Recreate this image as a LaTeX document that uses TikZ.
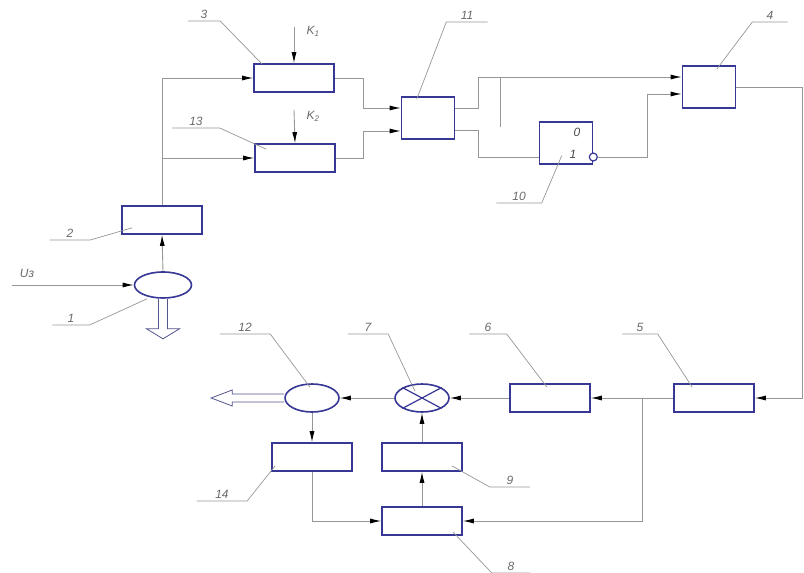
\documentclass[tikz,border=0pt]{standalone}
\usepackage{fontspec}
\setmainfont{Liberation Sans}
\usetikzlibrary{shapes.geometric,arrows.meta,calc}
\definecolor{blockblue}{RGB}{55,55,150}
\definecolor{wiregray}{RGB}{150,150,150}
\definecolor{textgray}{RGB}{105,105,105}
\tikzset{
  blk/.style={draw=blockblue,line width=1.6pt,fill=white,minimum width=80pt,minimum height=28pt,inner sep=0pt},
  sq/.style={blk,minimum width=53pt,minimum height=42pt},
  ell/.style={draw=blockblue,line width=1.6pt,ellipse,fill=white,minimum width=54pt,minimum height=28pt,inner sep=0pt},
  inv/.style={draw=blockblue,line width=1.2pt,circle,fill=white,minimum size=8pt,inner sep=0pt},
  wire/.style={draw=wiregray,line width=0.9pt},
  arr/.style={-{Latex[length=11pt,width=5pt,color=black]}},
  lead/.style={draw=wiregray,line width=0.7pt},
  lbl/.style={anchor=south,inner xsep=0pt,inner ysep=2pt,text=textgray,font=\itshape\fontsize{12}{12}\selectfont},
  hollow/.style={draw=blockblue!60!gray,line width=0.8pt,fill=white},
}
\begin{document}
\begin{tikzpicture}[x=1pt,y=-1pt]
\useasboundingbox (0,0) rectangle (804,573);

% blocks
\node[blk] (b3) at (294,78) {};
\node[blk] (b13) at (295,158) {};
\node[blk] (b2) at (162,220) {};
\node[ell,minimum width=57pt,minimum height=26pt] (e1) at (163,285) {};
\node[sq] (b11) at (428,118) {};
\node[sq] (b10) at (566,143) {};
\node[sq] (b4) at (709,87) {};
\node[blk] (b5) at (714,398) {};
\node[blk] (b6) at (550,398) {};
\node[ell] (e7) at (422,398) {};
\node[ell] (e12) at (312,398) {};
\node[blk] (b14) at (312,457) {};
\node[blk] (b9) at (422,457) {};
\node[blk] (b8) at (422,521) {};

\draw[blockblue,line width=1.2pt] (e7.north west) -- (e7.south east) (e7.north east) -- (e7.south west);
\node[inv] (n10) at ([yshift=-14pt]b10.east) {};
\node[lbl,anchor=center,text=black!70] (t0) at (577,132) {0};
\node[lbl,anchor=center,text=black!70] (t1) at (573,154) {1};

% inputs
\coordinate (uin) at (12,285);
\node[lbl] (uz) at (27,280) {Uз};
\draw[wire,arr] (uin) -- (e1.west);
\draw[wire,arr] (e1.north) -- (b2.south);
\coordinate (k1) at (294,27);
\coordinate (k2) at (294,110);
\node[lbl,anchor=center] (lk1) at (313,31) {K\textsubscript{1}};
\node[lbl,anchor=center] (lk2) at (313,116) {K\textsubscript{2}};
\draw[wire,arr] (k1) -- (b3.north);
\draw[wire,arr] (k2) -- (b13.north);

% upper part
\draw[wire,arr] (b2.north) |- (b3.west);
\coordinate (j2) at (b2.north |- b13.west);
\draw[wire,arr] (j2) -- (b13.west);
\coordinate (c3) at (363,108);
\coordinate (c13) at (363,131);
\draw[wire,arr] (b3.east) -| (c3) -- ([yshift=10pt]b11.west);
\draw[wire,arr] (b13.east) -| (c13) -- ([yshift=-13pt]b11.west);
\coordinate (o11) at (478,77);
\coordinate (p10) at ([yshift=-14pt]b10.west);
\draw[wire,arr] ([yshift=10pt]b11.east) -| (o11) -- ([yshift=10pt]b4.west);
\draw[wire] ([yshift=-12pt]b11.east) -| (o11 |- p10) -- (p10);
\coordinate (s1) at (500,77);
\draw[wire] (s1) -- ++(0,50);
\coordinate (c10) at (647,94);
\draw[wire,arr] (n10.east) -| (c10) -- ([yshift=-7pt]b4.west);

% feedback chain
\coordinate (r4) at (802,398);
\draw[wire,arr] (b4.east) -| (r4) -- (b5.east);
\coordinate (j5) at (642,398);
\draw[wire,arr] (b5.west) -- (b6.east);
\draw[wire,arr] (j5) |- (b8.east);
\draw[wire,arr] (b6.west) -- (e7.east);
\draw[wire,arr] (e7.west) -- (e12.east);
\draw[wire,arr] (e12.south) -- (b14.north);
\draw[wire,arr] (b14.south) |- (b8.west);
\draw[wire,arr] (b8.north) -- (b9.south);
\draw[wire,arr] (b9.north) -- (e7.south);

% outputs
\draw[hollow] ([xshift=-4.5pt]e1.south) -- ++(0,30) -- ++(-12,0) -- ++(16.5,10) -- ++(16.5,-10) -- ++(-12,0) -- ++(0,-30);
\draw[hollow] ([yshift=4pt]e12.west) -- ++(-52,0) -- ++(0,-4) -- ++(-21,8) -- ++(21,8) -- ++(0,-4) -- ++(52,0);

% leaders
\node[lbl,minimum width=32pt] (n3) at (204,21) {3};
\draw[lead] (n3.south west) -- (n3.south east) -- ($(b3.north west)+(9,1)$);
\node[lbl,minimum width=47pt] (n13) at (196,128) {13};
\draw[lead] (n13.south west) -- (n13.south east) -- ($(b13.north west)+(12,6)$);
\node[lbl,minimum width=40pt] (n2) at (70,240) {2};
\draw[lead] (n2.south west) -- (n2.south east) -- ($(b2.south west)+(11,-7)$);
\node[lbl,minimum width=37pt] (n1) at (71,325) {1};
\draw[lead] (n1.south west) -- (n1.south east) -- ($(e1.south)+(-16,0)$);
\node[lbl,minimum width=41pt] (n11) at (467,22) {11};
\draw[lead] (n11.south east) -- (n11.south west) -- ($(b11.north west)+(16,3)$);
\node[lbl,minimum width=35pt] (n4) at (770,22) {4};
\draw[lead] (n4.south east) -- (n4.south west) -- ($(b4.north west)+(35,4)$);
\node[lbl,minimum width=45pt] (n10l) at (519,203) {10};
\draw[lead] (n10l.south west) -- (n10l.south east) -- ($(b10.south west)+(23,-9)$);
\node[lbl,minimum width=50pt] (n12) at (245,334) {12};
\draw[lead] (n12.south west) -- (n12.south east) -- ($(e12.north)+(-2,4)$);
\node[lbl,minimum width=40pt] (n7) at (368,334) {7};
\draw[lead] (n7.south west) -- (n7.south east) -- ($(e7.north)+(-7,8)$);
\node[lbl,minimum width=37pt] (n6) at (488,334) {6};
\draw[lead] (n6.south west) -- (n6.south east) -- ($(b6.north)+(-3,4)$);
\node[lbl,minimum width=35pt] (n5) at (640,334) {5};
\draw[lead] (n5.south west) -- (n5.south east) -- ($(b5.north west)+(19,4)$);
\node[lbl,minimum width=50pt] (n14) at (222,501) {14};
\draw[lead] (n14.south west) -- (n14.south east) -- ($(b14.south west)+(4,-6)$);
\node[lbl,minimum width=40pt] (n9) at (510,487) {9};
\draw[lead] (n9.south east) -- (n9.south west) -- ($(b9.south east)+(-11,-6)$);
\node[lbl,minimum width=38pt] (n8) at (511,573) {8};
\draw[lead] (n8.south east) -- (n8.south west) -- ($(b8.south east)+(-10,-4)$);
\end{tikzpicture}
\end{document}
